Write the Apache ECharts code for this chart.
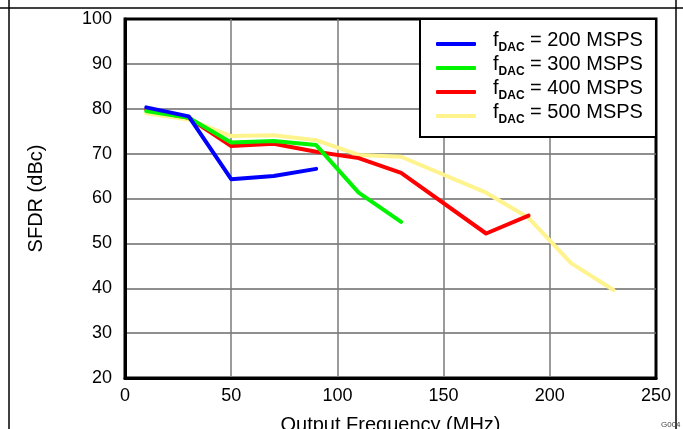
<!DOCTYPE html>
<html>
<head>
<meta charset="utf-8">
<script src="https://cdn.jsdelivr.net/npm/echarts@6/dist/echarts.min.js"></script>
<style>
html,body{margin:0;padding:0;background:#fff;}
#c{width:683px;height:429px;}
</style>
</head>
<body>
<div id="c"></div>
<script>
var freq200 = [10, 30, 50, 70, 90];
var sfdr200 = [80.3, 78.3, 64.3, 65.0, 66.6];
var freq300 = [10, 30, 50, 70, 90, 110, 130];
var sfdr300 = [79.5, 78.0, 72.5, 72.8, 71.9, 61.3, 54.8];
var freq400 = [10, 30, 50, 70, 90, 110, 130, 170, 190];
var sfdr400 = [79.8, 78.0, 71.7, 72.2, 70.4, 69.0, 65.7, 52.2, 56.2];
var freq500 = [10, 30, 50, 70, 90, 110, 130, 170, 190, 210, 230];
var sfdr500 = [79.0, 77.6, 73.9, 74.1, 73.0, 69.7, 69.3, 61.3, 55.7, 45.6, 39.6];
var xTicks = [0, 50, 100, 150, 200, 250];
var yTicks = [20, 30, 40, 50, 60, 70, 80, 90, 100];
var seriesNames = ['200', '300', '400', '500'];

function pairs(xs, ys) { return xs.map(function (x, i) { return [x, ys[i]]; }); }

var colors = { '200': '#0000ff', '300': '#00f400', '400': '#ff0000', '500': '#fff38e' };
var dataMap = {
  '200': pairs(freq200, sfdr200),
  '300': pairs(freq300, sfdr300),
  '400': pairs(freq400, sfdr400),
  '500': pairs(freq500, sfdr500)
};
var drawOrder = ['500', '400', '300', '200'];

var chart = echarts.init(document.getElementById('c'), null, { renderer: 'canvas' });
var font = 'Liberation Sans, Arial, sans-serif';
chart.setOption({
  animation: false,
  backgroundColor: '#fff',
  textStyle: { fontFamily: font },
  grid: { left: 125, right: 27, top: 19, bottom: 51, show: true, borderColor: '#000', borderWidth: 3, backgroundColor: 'transparent', containLabel: false, outerBoundsMode: 'none' },
  xAxis: {
    type: 'value', min: xTicks[0], max: xTicks[xTicks.length - 1], interval: 50,
    name: 'Output Frequency (MHz)', nameLocation: 'middle', nameGap: 37,
    nameTextStyle: { fontSize: 20, color: '#000', fontFamily: font },
    axisLine: { show: true, lineStyle: { color: '#000', width: 3 } },
    axisTick: { show: false },
    axisLabel: { fontSize: 18, color: '#000', margin: 9, fontFamily: font },
    splitLine: { show: true, showMinLine: false, showMaxLine: false, lineStyle: { color: '#7a7a7a', width: 1.5 } }
  },
  yAxis: {
    type: 'value', min: yTicks[0], max: yTicks[yTicks.length - 1], interval: 10,
    name: 'SFDR (dBc)', nameLocation: 'middle', nameGap: 79,
    nameTextStyle: { fontSize: 20, color: '#000', fontFamily: font },
    axisLine: { show: true, lineStyle: { color: '#000', width: 3 } },
    axisTick: { show: false },
    axisLabel: { fontSize: 18, color: '#000', margin: 13, fontFamily: font },
    splitLine: { show: true, showMinLine: false, showMaxLine: false, lineStyle: { color: '#6a6a6a', width: 1.5 } }
  },
  legend: {
    data: seriesNames,
    orient: 'vertical',
    left: 420, top: 19,
    padding: [11, 13, 11, 16],
    itemGap: 0,
    itemWidth: 40, itemHeight: 4,
    icon: 'roundRect',
    backgroundColor: '#fff',
    borderColor: '#000', borderWidth: 2, borderRadius: 0,
    formatter: function (n) { return '{f|f}{s|DAC}{f| = ' + n + ' MSPS}'; },
    textStyle: {
      fontFamily: font, color: '#000', padding: [0, 0, 0, 12],
      rich: {
        f: { fontSize: 20, fontFamily: font, color: '#000', lineHeight: 20, padding: [0, 0, 4, 0], verticalAlign: 'bottom' },
        s: { fontSize: 12, fontWeight: 'bold', fontFamily: font, color: '#000', lineHeight: 12, verticalAlign: 'bottom' }
      }
    }
  },
  graphic: [
    { type: 'line', shape: { x1: 9, y1: 0, x2: 9, y2: 429 }, style: { stroke: '#000', lineWidth: 1.5 } },
    { type: 'line', shape: { x1: 676, y1: 0, x2: 676, y2: 429 }, style: { stroke: '#000', lineWidth: 1.5 } },
    { type: 'line', shape: { x1: 0, y1: 8, x2: 683, y2: 8 }, style: { stroke: '#000', lineWidth: 1.5 } },
    { type: 'text', left: 661, top: 421, style: { text: 'G004', fontSize: 8, fill: '#444', fontFamily: font } }
  ],
  series: drawOrder.map(function (k) {
    return {
      name: k, type: 'line', data: dataMap[k], showSymbol: false, symbol: 'none',
      lineStyle: { color: colors[k], width: 4, cap: 'round', join: 'round' },
      itemStyle: { color: colors[k] }
    };
  })
});
</script>
</body>
</html>
